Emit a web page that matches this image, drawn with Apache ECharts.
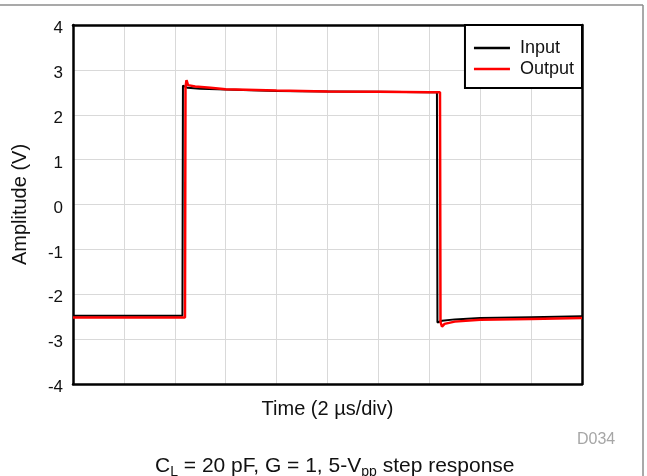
<!DOCTYPE html>
<html>
<head>
<meta charset="utf-8">
<script src="https://cdn.jsdelivr.net/npm/echarts@6/dist/echarts.min.js"></script>
<style>html,body{margin:0;padding:0;background:#fff}#c{width:647px;height:476px}</style>
</head>
<body>
<div id="c"></div>
<script>
// Time in divisions (2 µs/div)
const inputTime = [0, 1, 2, 2.15, 2.16, 2.25, 2.5, 3, 4, 5, 6, 7, 7.15, 7.16, 7.25, 7.5, 8, 9, 10];
const inputAmp  = [-2.48, -2.48, -2.48, -2.48, 2.65, 2.6, 2.58, 2.56, 2.53, 2.52, 2.51, 2.5, 2.5, -2.63, -2.59, -2.56, -2.53, -2.51, -2.49];
const outputTime = [0, 1, 2, 2.2, 2.21, 2.23, 2.26, 2.4, 2.7, 3, 4, 5, 6, 7, 7.21, 7.22, 7.25, 7.3, 7.5, 8, 9, 10];
const outputAmp  = [-2.52, -2.52, -2.52, -2.52, 2.62, 2.77, 2.66, 2.63, 2.6, 2.57, 2.54, 2.52, 2.51, 2.5, 2.5, -2.62, -2.72, -2.66, -2.61, -2.57, -2.55, -2.53];
const yTicks = [-4, -3, -2, -1, 0, 1, 2, 3, 4];
const seriesNames = ['Input', 'Output'];

const font = 'Liberation Sans, Arial, sans-serif';
const chart = echarts.init(document.getElementById('c'), null, {renderer: 'canvas'});
const pair = (t, v) => t.map((x, i) => [x, v[i]]);
const border = {show: true, onZero: false, lineStyle: {color: '#000', width: 2.5}};
const grey = {show: true, lineStyle: {color: '#d9d9d9', width: 1}};

chart.setOption({
  animation: false,
  backgroundColor: '#fff',
  textStyle: {fontFamily: font},
  grid: {left: 73, right: 65, top: 25, bottom: 92, containLabel: false},
  xAxis: [{
    type: 'value', min: 0, max: 10, interval: 1, position: 'bottom',
    name: 'Time (2 µs/div)', nameLocation: 'middle', nameGap: 15,
    nameTextStyle: {fontSize: 20, color: '#111', fontFamily: font},
    axisLine: border, axisTick: {show: false}, axisLabel: {show: false},
    splitLine: grey
  }, {
    type: 'value', min: 0, max: 10, interval: 1, position: 'top',
    axisLine: border, axisTick: {show: false}, axisLabel: {show: false}, splitLine: {show: false}
  }],
  yAxis: [{
    type: 'value', min: yTicks[0], max: yTicks[yTicks.length - 1], interval: 1, position: 'left',
    name: 'Amplitude (V)', nameLocation: 'middle', nameGap: 43,
    nameTextStyle: {fontSize: 20, color: '#111', fontFamily: font},
    axisLine: border, axisTick: {show: false},
    axisLabel: {fontSize: 17, color: '#111', margin: 10, fontFamily: font, verticalAlign: 'top', lineHeight: 7},
    splitLine: grey
  }, {
    type: 'value', min: yTicks[0], max: yTicks[yTicks.length - 1], interval: 1, position: 'right',
    axisLine: border, axisTick: {show: false}, axisLabel: {show: false}, splitLine: {show: false}
  }],
  legend: {
    data: seriesNames.map(n => ({name: n, icon: 'rect'})),
    orient: 'vertical', right: 65, top: 25,
    itemWidth: 36, itemHeight: 2.5, itemGap: 3,
    backgroundColor: '#fff', borderColor: '#000', borderWidth: 2,
    padding: [14, 8, 10, 9], borderRadius: 0,
    textStyle: {fontSize: 18, color: '#111', fontFamily: font, padding: [0, 0, 0, 5]}
  },
  title: [{
    text: '{n|C}{s|L}{n| = 20 pF, G = 1, 5-V}{s|pp}{n| step response}',
    left: 150, top: 448,
    textStyle: {
      fontWeight: 'normal',
      rich: {
        n: {fontSize: 21, color: '#111', fontFamily: font, fontWeight: 'normal', verticalAlign: 'middle', lineHeight: 26},
        s: {fontSize: 14, color: '#111', fontFamily: font, fontWeight: 'normal', verticalAlign: 'bottom', lineHeight: 14}
      }
    }
  }, {
    text: 'D034', left: 572, top: 427,
    textStyle: {fontSize: 16, color: '#a6a6a6', fontWeight: 'normal', fontFamily: font}
  }],
  graphic: [
    {type: 'line', shape: {x1: 0, y1: 5, x2: 643, y2: 5}, style: {stroke: '#8c8c8c', lineWidth: 1.5}},
    {type: 'line', shape: {x1: 643, y1: 5, x2: 643, y2: 476}, style: {stroke: '#8c8c8c', lineWidth: 1.5}}
  ],
  series: [
    {name: seriesNames[0], type: 'line', xAxisIndex: 0, yAxisIndex: 0, data: pair(inputTime, inputAmp), showSymbol: false, lineStyle: {color: '#000', width: 2}, itemStyle: {color: '#000'}, z: 2},
    {name: seriesNames[1], type: 'line', xAxisIndex: 0, yAxisIndex: 0, data: pair(outputTime, outputAmp), showSymbol: false, lineStyle: {color: '#f00', width: 2.5}, itemStyle: {color: '#f00'}, z: 3}
  ]
});
</script>
</body>
</html>
